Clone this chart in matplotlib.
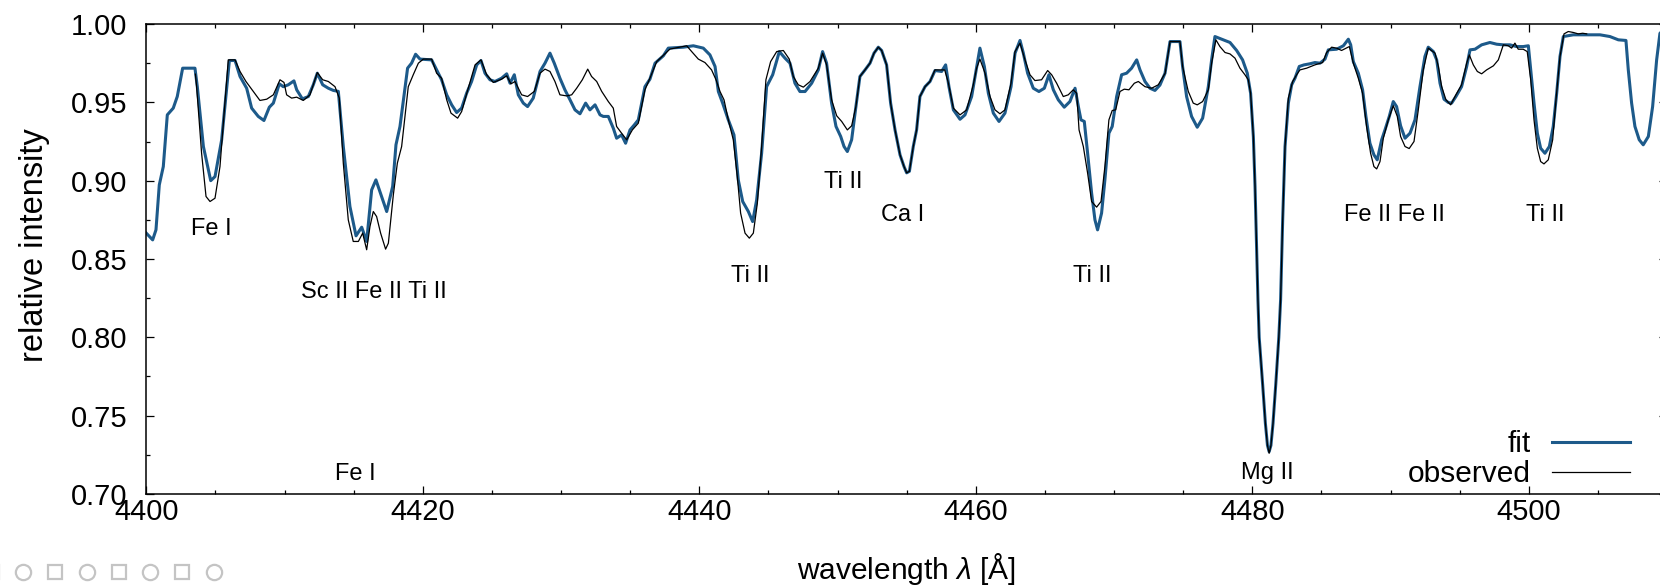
import matplotlib
matplotlib.use("Agg")
import matplotlib.pyplot as plt
from matplotlib.ticker import MultipleLocator, FormatStrFormatter

plt.rcParams['font.family'] = ['Liberation Sans', 'DejaVu Sans']
plt.rcParams['mathtext.fontset'] = 'custom'
plt.rcParams['mathtext.it'] = 'Liberation Sans:italic'
plt.rcParams['mathtext.rm'] = 'Liberation Sans'

# ---------------- data ----------------
fit_wl = [4400.0, 4400.46, 4400.7, 4400.94, 4401.23, 4401.52, 4401.95, 4402.24, 4402.63, 4403.52,
          4403.69, 4404.13, 4404.66, 4404.97, 4405.45, 4406.01, 4406.42, 4406.78, 4407.26, 4407.62,
          4408.1, 4408.51, 4408.9, 4409.19, 4409.62, 4409.91, 4410.27, 4410.68, 4410.88, 4411.29,
          4411.72, 4412.08, 4412.37, 4412.76, 4413.17, 4413.53, 4413.89, 4414.25, 4414.73, 4415.17,
          4415.58, 4415.94, 4416.3, 4416.61, 4417.02, 4417.39, 4417.82, 4418.06, 4418.35, 4418.9,
          4419.19, 4419.48, 4419.8, 4420.64, 4421.0, 4421.36, 4421.73, 4422.09, 4422.45, 4422.81,
          4423.17, 4423.53, 4423.9, 4424.21, 4424.5, 4424.86, 4425.22, 4425.7, 4426.07, 4426.31,
          4426.62, 4426.91, 4427.27, 4427.58, 4427.99, 4428.48, 4428.84, 4429.2, 4429.51, 4429.92,
          4430.28, 4430.65, 4431.01, 4431.37, 4431.78, 4432.09, 4432.46, 4432.82, 4433.06, 4433.42,
          4433.78, 4434.02, 4434.38, 4434.67, 4434.99, 4435.3, 4435.59, 4436.07, 4436.43, 4436.8,
          4437.4, 4437.76, 4438.85, 4439.57, 4440.29, 4440.77, 4441.14, 4441.38, 4441.69, 4442.1,
          4442.51, 4442.82, 4443.14, 4443.55, 4443.86, 4444.15, 4444.51, 4444.87, 4445.31, 4445.79,
          4446.2, 4446.56, 4446.92, 4447.28, 4447.65, 4448.13, 4448.61, 4448.92, 4449.21, 4449.57,
          4449.89, 4450.23, 4450.47, 4450.71, 4451.02, 4451.33, 4451.62, 4451.99, 4452.35, 4452.64,
          4452.95, 4453.19, 4453.55, 4453.84, 4454.16, 4454.52, 4454.81, 4455.0, 4455.2, 4455.48,
          4455.72, 4455.96, 4456.33, 4456.69, 4457.05, 4457.53, 4457.82, 4458.06, 4458.38, 4458.86,
          4459.22, 4459.7, 4459.99, 4460.3, 4460.62, 4460.91, 4461.27, 4461.68, 4462.11, 4462.55,
          4462.84, 4463.2, 4463.44, 4463.75, 4464.16, 4464.57, 4464.96, 4465.29, 4465.61, 4465.97,
          4466.4, 4466.81, 4467.18, 4467.42, 4467.61, 4467.85, 4468.09, 4468.38, 4468.62, 4468.81,
          4469.1, 4469.34, 4469.63, 4469.87, 4470.19, 4470.55, 4470.91, 4471.27, 4471.64, 4471.88,
          4472.24, 4472.6, 4472.96, 4473.32, 4473.69, 4474.05, 4474.77, 4474.96, 4475.25, 4475.61,
          4476.02, 4476.41, 4476.82, 4477.06, 4477.3, 4477.78, 4478.39, 4478.87, 4479.3, 4479.64,
          4479.88, 4480.08, 4480.2, 4480.32, 4480.41, 4480.5, 4480.75, 4480.95, 4481.1, 4481.22,
          4481.35, 4481.5, 4481.7, 4481.92, 4482.05, 4482.2, 4482.37, 4482.61, 4482.85, 4483.09,
          4483.4, 4483.74, 4484.17, 4484.53, 4484.9, 4485.26, 4485.5, 4486.1, 4486.59, 4486.95,
          4487.12, 4487.31, 4487.67, 4487.98, 4488.22, 4488.51, 4488.8, 4489.04, 4489.36, 4489.6,
          4489.91, 4490.2, 4490.44, 4490.73, 4491.05, 4491.41, 4491.77, 4492.13, 4492.49, 4492.73,
          4493.1, 4493.34, 4493.58, 4493.87, 4494.18, 4494.42, 4494.73, 4495.14, 4495.51, 4495.75,
          4496.11, 4496.59, 4497.19, 4497.68, 4498.16, 4498.64, 4499.12, 4499.6, 4499.97, 4500.14,
          4500.38, 4500.62, 4500.86, 4501.17, 4501.49, 4501.77, 4502.02, 4502.26, 4502.5, 4503.22,
          4504.19, 4505.15, 4505.87, 4506.48, 4507.03, 4507.2, 4507.44, 4507.68, 4507.99, 4508.28,
          4508.65, 4508.96, 4509.25, 4509.49, 4510.0]
fit_int = [0.8665, 0.8622, 0.8686, 0.8973, 0.909, 0.942, 0.9463, 0.9537, 0.9718, 0.9718,
           0.960, 0.9218, 0.900, 0.9026, 0.926, 0.9767, 0.9767, 0.9665, 0.959, 0.9463,
           0.941, 0.9384, 0.9469, 0.9495, 0.9618, 0.960, 0.9612, 0.9637, 0.958, 0.9522,
           0.9537, 0.9612, 0.9686, 0.9612, 0.959, 0.9576, 0.957, 0.9218, 0.8835, 0.8648,
           0.8703, 0.8612, 0.8941, 0.9005, 0.8899, 0.8803, 0.8963, 0.9229, 0.9346, 0.9718,
           0.975, 0.9807, 0.9776, 0.9771, 0.9707, 0.9644, 0.9548, 0.9484, 0.9435, 0.9463,
           0.9558, 0.9633, 0.9739, 0.9767, 0.9686, 0.9644, 0.9633, 0.9654, 0.9682, 0.9622,
           0.9676, 0.9548, 0.9495, 0.9473, 0.9527, 0.9697, 0.975, 0.9814, 0.975, 0.9654,
           0.958, 0.9516, 0.9452, 0.9427, 0.9495, 0.9452, 0.9484, 0.942, 0.941, 0.941,
           0.9335, 0.9271, 0.9292, 0.9239, 0.9324, 0.9356, 0.9388, 0.960, 0.9648, 0.975,
           0.9797, 0.9846, 0.9852, 0.9861, 0.9846, 0.9803, 0.9729, 0.9569, 0.9495, 0.9388,
           0.9292, 0.9005, 0.8867, 0.8803, 0.8739, 0.8877, 0.9175, 0.960, 0.9676, 0.9824,
           0.9782, 0.975, 0.9622, 0.9569, 0.9569, 0.9622, 0.9707, 0.9824, 0.975, 0.9495,
           0.9346, 0.9282, 0.9218, 0.9186, 0.9261, 0.9473, 0.9665, 0.9707, 0.975, 0.9814,
           0.9852, 0.9831, 0.9739, 0.9495, 0.9324, 0.9165, 0.909, 0.905, 0.906, 0.9218,
           0.9324, 0.9537, 0.960, 0.9633, 0.9703, 0.9697, 0.9739, 0.960, 0.9452, 0.9392,
           0.942, 0.9537, 0.9686, 0.9846, 0.9729, 0.9558, 0.9431, 0.9378, 0.9431, 0.960,
           0.9814, 0.9895, 0.9814, 0.9686, 0.959, 0.9569, 0.959, 0.9676, 0.958, 0.9516,
           0.9469, 0.9505, 0.959, 0.9473, 0.9388, 0.9378, 0.9175, 0.892, 0.875, 0.8686,
           0.8793, 0.9005, 0.9303, 0.9346, 0.9537, 0.9676, 0.9686, 0.9718, 0.9771, 0.9707,
           0.9633, 0.959, 0.9576, 0.961, 0.9686, 0.9888, 0.9888, 0.9729, 0.9537, 0.941,
           0.9341, 0.9399, 0.960, 0.9771, 0.992, 0.9903, 0.9882, 0.9831, 0.9771, 0.9686,
           0.9558, 0.928, 0.8963, 0.8537, 0.824, 0.80, 0.77, 0.745, 0.731, 0.727,
           0.731, 0.745, 0.77, 0.80, 0.824, 0.875, 0.9218, 0.9495, 0.9612, 0.9654,
           0.9729, 0.9739, 0.9746, 0.9754, 0.975, 0.9776, 0.9835, 0.9839, 0.9861, 0.9903,
           0.9867, 0.976, 0.9686, 0.958, 0.941, 0.9239, 0.9165, 0.9133, 0.9261, 0.9324,
           0.941, 0.9505, 0.9473, 0.935, 0.9271, 0.9303, 0.9388, 0.960, 0.9793, 0.9852,
           0.9824, 0.9771, 0.9622, 0.952, 0.9499, 0.9495, 0.9537, 0.960, 0.9729, 0.9835,
           0.9839, 0.9867, 0.9882, 0.9871, 0.9867, 0.9867, 0.9856, 0.9856, 0.9861, 0.9707,
           0.9495, 0.9303, 0.9207, 0.9175, 0.9218, 0.9346, 0.9558, 0.9793, 0.992, 0.9931,
           0.9931, 0.9931, 0.992, 0.9899, 0.9895, 0.9707, 0.9495, 0.9346, 0.9261, 0.9229,
           0.9282, 0.9473, 0.9771, 0.9941, 0.998]

obs_wl = [4403.55, 4403.64, 4404.0, 4404.32, 4404.61, 4404.97, 4405.33, 4405.69, 4405.93, 4406.42,
          4406.78, 4407.21, 4407.74, 4408.22, 4408.71, 4409.19, 4409.67, 4409.96, 4410.15, 4410.51,
          4410.88, 4411.36, 4411.84, 4412.37, 4412.76, 4413.17, 4413.65, 4413.96, 4414.25, 4414.61,
          4414.97, 4415.34, 4415.65, 4415.94, 4416.18, 4416.42, 4416.66, 4416.95, 4417.31, 4417.51,
          4417.87, 4418.16, 4418.47, 4418.95, 4419.31, 4419.68, 4420.04, 4420.64, 4421.0, 4421.36,
          4421.73, 4422.04, 4422.52, 4422.81, 4423.17, 4423.78, 4424.21, 4424.62, 4425.1, 4425.7,
          4426.07, 4426.38, 4426.67, 4427.15, 4427.58, 4428.07, 4428.48, 4428.84, 4429.2, 4429.56,
          4429.92, 4430.41, 4430.77, 4431.13, 4431.54, 4431.93, 4432.21, 4432.58, 4432.94, 4433.42,
          4433.78, 4434.02, 4434.38, 4434.75, 4435.16, 4435.59, 4436.07, 4436.43, 4436.92, 4437.88,
          4439.09, 4439.45, 4439.93, 4440.41, 4440.89, 4441.21, 4441.5, 4441.79, 4442.1, 4442.46,
          4442.75, 4442.99, 4443.31, 4443.62, 4443.91, 4444.2, 4444.51, 4444.82, 4445.16, 4445.6,
          4446.08, 4446.51, 4446.8, 4447.16, 4447.53, 4448.01, 4448.61, 4448.92, 4449.21, 4449.57,
          4449.94, 4450.3, 4450.71, 4451.02, 4451.33, 4451.62, 4451.99, 4452.35, 4452.64, 4452.95,
          4453.19, 4453.55, 4453.84, 4454.16, 4454.52, 4454.81, 4455.0, 4455.2, 4455.48, 4455.72,
          4455.96, 4456.33, 4456.69, 4457.05, 4457.75, 4458.0, 4458.38, 4458.86, 4459.34, 4459.82,
          4460.06, 4460.3, 4460.67, 4461.03, 4461.39, 4461.75, 4462.11, 4462.55, 4462.84, 4463.2,
          4463.56, 4463.92, 4464.28, 4464.76, 4465.2, 4465.49, 4465.85, 4466.33, 4466.69, 4467.05,
          4467.3, 4467.47, 4467.78, 4468.09, 4468.38, 4468.74, 4469.06, 4469.34, 4469.63, 4469.87,
          4470.12, 4470.43, 4470.74, 4471.08, 4471.47, 4471.76, 4472.24, 4472.72, 4473.2, 4473.7,
          4474.05, 4474.77, 4474.96, 4475.37, 4475.73, 4476.02, 4476.41, 4476.82, 4477.06, 4477.37,
          4477.66, 4478.03, 4478.39, 4478.75, 4479.11, 4479.47, 4479.71, 4479.88, 4480.08, 4480.2,
          4480.32, 4480.41, 4480.5, 4480.75, 4480.95, 4481.1, 4481.22, 4481.35, 4481.5, 4481.7,
          4481.92, 4482.05, 4482.2, 4482.37, 4482.61, 4482.92, 4483.21, 4483.45, 4483.93, 4484.53,
          4485.09, 4485.38, 4485.74, 4486.1, 4486.46, 4487.02, 4487.31, 4487.67, 4487.98, 4488.27,
          4488.56, 4488.8, 4489.0, 4489.24, 4489.48, 4489.84, 4490.2, 4490.49, 4490.73, 4491.05,
          4491.35, 4491.7, 4492.01, 4492.37, 4492.73, 4493.22, 4493.46, 4493.7, 4494.01, 4494.35,
          4494.73, 4495.14, 4495.51, 4495.7, 4495.99, 4496.28, 4496.59, 4496.95, 4497.44, 4497.8,
          4498.16, 4498.52, 4498.76, 4499.0, 4499.24, 4499.6, 4499.89, 4500.14, 4500.38, 4500.62,
          4500.86, 4501.1, 4501.41, 4501.73, 4501.97, 4502.26, 4502.55, 4502.86, 4503.22, 4503.58,
          4503.9, 4504.19]
obs_int = [0.968, 0.960, 0.9175, 0.8899, 0.8867, 0.8888, 0.909, 0.9495, 0.9771, 0.9771,
           0.9697, 0.9633, 0.957, 0.9512, 0.952, 0.9548, 0.9644, 0.9627, 0.9548, 0.9527,
           0.9533, 0.9512, 0.9548, 0.969, 0.9644, 0.9633, 0.960, 0.9527, 0.9112, 0.875,
           0.8612, 0.8612, 0.8665, 0.8559, 0.8708, 0.8803, 0.8771, 0.8665, 0.8563, 0.8601,
           0.891, 0.9112, 0.9218, 0.960, 0.9676, 0.975, 0.9776, 0.9776, 0.9686, 0.9654,
           0.9516, 0.9431, 0.9399, 0.9441, 0.9554, 0.9739, 0.9771, 0.9676, 0.9627, 0.9648,
           0.9669, 0.9618, 0.9633, 0.9548, 0.9537, 0.957, 0.9686, 0.9712, 0.9697, 0.9633,
           0.9548, 0.9541, 0.9548, 0.959, 0.9644, 0.9712, 0.9665, 0.9633, 0.957, 0.9505,
           0.9463, 0.9346, 0.9303, 0.9261, 0.9324, 0.9367, 0.958, 0.9654, 0.976, 0.984,
           0.9861, 0.9824, 0.9776, 0.9754, 0.9707, 0.9644, 0.9569, 0.9516, 0.9388, 0.9261,
           0.9026, 0.8793, 0.8665, 0.8633, 0.8665, 0.8856, 0.9218, 0.9644, 0.976, 0.9824,
           0.9831, 0.9776, 0.9665, 0.9612, 0.9597, 0.9633, 0.9718, 0.9814, 0.9739, 0.9516,
           0.9414, 0.9378, 0.9324, 0.935, 0.9473, 0.9665, 0.9707, 0.975, 0.9814, 0.9852,
           0.9831, 0.9739, 0.9495, 0.9324, 0.9165, 0.909, 0.905, 0.906, 0.9218, 0.9324,
           0.9537, 0.960, 0.9633, 0.9707, 0.9707, 0.963, 0.9463, 0.942, 0.9452, 0.9612,
           0.9718, 0.9776, 0.9686, 0.9537, 0.9452, 0.9427, 0.9452, 0.9622, 0.9824, 0.9878,
           0.9771, 0.9676, 0.9639, 0.9644, 0.9703, 0.9676, 0.9622, 0.9537, 0.9548, 0.958,
           0.9558, 0.9324, 0.9218, 0.9048, 0.8867, 0.8831, 0.8867, 0.909, 0.9388, 0.9448,
           0.9452, 0.9569, 0.9584, 0.958, 0.9622, 0.9633, 0.960, 0.959, 0.9612, 0.9686,
           0.9888, 0.9888, 0.9729, 0.957, 0.9495, 0.9484, 0.9505, 0.958, 0.975, 0.9899,
           0.9856, 0.9818, 0.9809, 0.9782, 0.9718, 0.9676, 0.9644, 0.9558, 0.928, 0.8963,
           0.8537, 0.824, 0.80, 0.77, 0.745, 0.731, 0.726, 0.731, 0.745, 0.77,
           0.80, 0.824, 0.875, 0.9218, 0.9527, 0.9633, 0.9676, 0.9707, 0.9718, 0.9739,
           0.9754, 0.9818, 0.9852, 0.9846, 0.9831, 0.9856, 0.975, 0.9654, 0.9558, 0.9346,
           0.9175, 0.909, 0.9075, 0.9122, 0.9271, 0.9388, 0.9478, 0.941, 0.9282, 0.9218,
           0.9205, 0.925, 0.9452, 0.9707, 0.9846, 0.9814, 0.9729, 0.960, 0.9516, 0.9484,
           0.9548, 0.9612, 0.975, 0.9803, 0.9739, 0.9697, 0.9682, 0.9707, 0.9733, 0.9771,
           0.9867, 0.9861, 0.9846, 0.9878, 0.9839, 0.9839, 0.9824, 0.9644, 0.9388, 0.9207,
           0.9122, 0.9107, 0.9133, 0.9261, 0.9516, 0.9793, 0.9937, 0.9952, 0.9946, 0.9937,
           0.9941, 0.9937]

line_labels = ["Fe I", "Sc II Fe II Ti II", "Fe I", "Ti II", "Ti II", "Ca I",
               "Ti II", "Mg II", "Fe II Fe II", "Ti II"]
label_wl = [4404.7, 4416.45, 4415.1, 4443.7, 4450.4, 4454.7, 4468.45, 4481.1, 4490.3, 4501.2]
label_int = [0.869, 0.829, 0.713, 0.839, 0.899, 0.878, 0.839, 0.7135, 0.878, 0.878]

# ---------------- figure ----------------
W, H = 1660, 585
fig = plt.figure(figsize=(W / 100, H / 100), dpi=100)
ax = fig.add_axes([0.08813, 0.15556, 0.91609, 0.80341])

fit_color = '#1d5a8a'
ln_fit, = ax.plot(fit_wl, fit_int, color=fit_color, lw=2.2, solid_joinstyle='round')
ln_obs, = ax.plot(obs_wl, obs_int, color='black', lw=0.9, solid_joinstyle='round')

ax.set_xlim(4400, 4510)
ax.set_ylim(0.70, 1.00)
ax.xaxis.set_major_locator(MultipleLocator(20))
ax.xaxis.set_minor_locator(MultipleLocator(5))
ax.yaxis.set_major_locator(MultipleLocator(0.05))
ax.yaxis.set_minor_locator(MultipleLocator(0.025))
ax.yaxis.set_major_formatter(FormatStrFormatter('%.2f'))
ax.tick_params(which='both', direction='in', top=True, right=True, width=0.9, color='black')
ax.tick_params(which='major', length=5.8, labelsize=21)
ax.tick_params(which='minor', length=2.9)
ax.tick_params(axis='x', which='major', pad=3.2)
ax.tick_params(axis='y', which='major', pad=13.7)
for s in ax.spines.values():
    s.set_linewidth(1.1)

for txt, lx, ly in zip(line_labels, label_wl, label_int):
    ax.text(lx, ly, txt, ha='center', va='center', fontsize=17, color='black')

ax.set_xlabel(r'wavelength $\lambda$ [Å]', fontsize=21.5, va='center')
ax.xaxis.set_label_coords(0.5, -(569.5 - 494) / 470)
ax.set_ylabel('relative intensity', fontsize=23.5, va='center')
ax.yaxis.set_label_coords(-0.0732, 0.53)

leg_kw = dict(frameon=False, markerfirst=False, borderpad=0, borderaxespad=0,
              handlelength=2.6, handletextpad=0.72, fontsize=21.5, loc='center right',
              bbox_transform=fig.transFigure)
leg1 = ax.legend([ln_fit], ['fit'], bbox_to_anchor=(1630 / W, 1 - 444.5 / H), **leg_kw)
ax.add_artist(leg1)
leg2 = ax.legend([ln_obs], ['observed'], bbox_to_anchor=(1630 / W, 1 - 474 / H), **leg_kw)

# decorative marker strip at bottom-left
deco = fig.add_axes([0, 0, 1, 1], zorder=-1)
deco.set_axis_off()
deco.set_xlim(0, W)
deco.set_ylim(H, 0)
deco_circ_x = [23, 87, 150, 214]
deco_sq_x = [-8, 55, 118.5, 182]
deco.plot(deco_circ_x, [571.5] * len(deco_circ_x), ls='none', marker='o', ms=11,
          mfc='none', mec='#c4c4c4', mew=1.6, clip_on=False)
deco.plot(deco_sq_x, [571.5] * len(deco_sq_x), ls='none', marker='s', ms=10,
          mfc='none', mec='#c4c4c4', mew=1.6, clip_on=False)

fig.savefig('out.png', dpi=100)
